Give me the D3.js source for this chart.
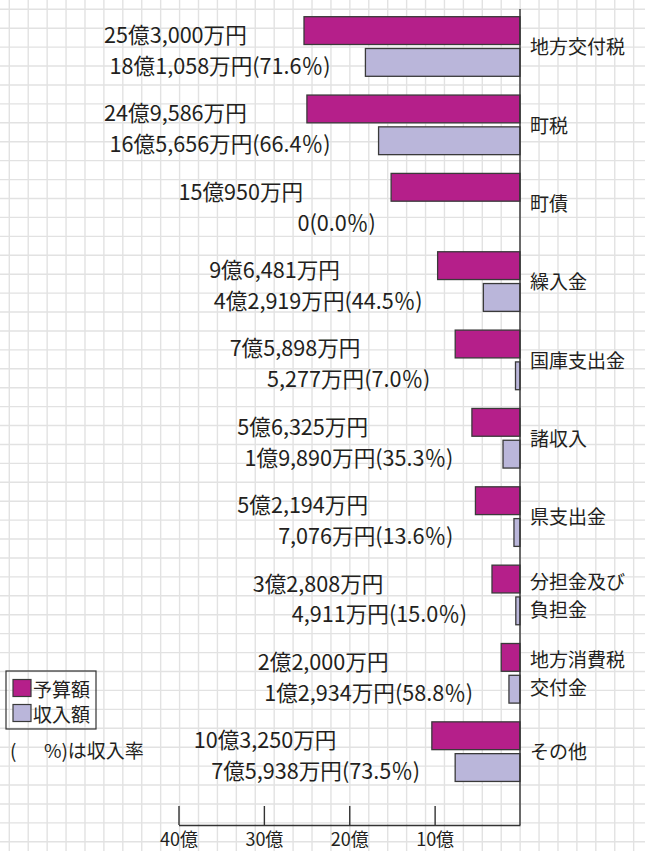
<!DOCTYPE html>
<html>
<head>
<meta charset="utf-8">
<script src="https://cdn.jsdelivr.net/npm/d3@7/dist/d3.min.js"></script>
<style>
  body { margin: 0; background: #fff; }
  svg { display: block; }
  text { font-family: "Noto Sans CJK JP", sans-serif; fill: #231f20; }
</style>
</head>
<body>
<div id="container"></div>
<script>
// categories (\n = line break in the label)
var categories = ['地方交付税', '町税', '町債', '繰入金', '国庫支出金', '諸収入',
    '県支出金', '分担金及び\n負担金', '地方消費税\n交付金', 'その他'];
// amounts in 万円
var budget = [253000, 249586, 150950, 96481, 75898, 56325, 52194, 32808, 22000, 103250];
var income = [181058, 165656, 0, 42919, 5277, 19890, 7076, 4911, 12934, 75938];
// 収入率 (%)
var rates = [71.6, 66.4, 0.0, 44.5, 7.0, 35.3, 13.6, 15.0, 58.8, 73.5];
// axis ticks in 億
var tickValues = [10, 20, 30, 40];
// where each value label ends, read along the axis in 億
var budgetLabelEnd = [32.0, 32.0, 25.4, 21.1, 18.7, 17.8, 17.8, 16.0, 15.4, 21.5];
var incomeLabelEnd = [22.2, 22.2, 16.9, 11.4, 10.5, 7.8, 7.8, 6.2, 5.5, 11.7];

var width = 645,
    height = 851,
    zeroX = 520,
    axisY = 825;

var svg = d3.select('#container')
    .append('svg')
    .attr('width', width)
    .attr('height', height);

// graph paper background
var gridStep = 18.92, gridStart = 9.3;
var grid = svg.append('g').attr('stroke', '#e2e2e2').attr('stroke-width', 1.4);
grid.selectAll('line.v')
    .data(d3.range(gridStart, width, gridStep))
    .enter().append('line')
    .attr('x1', function(d) { return d; })
    .attr('x2', function(d) { return d; })
    .attr('y1', 0).attr('y2', height);
grid.selectAll('line.h')
    .data(d3.range(gridStart, height, gridStep))
    .enter().append('line')
    .attr('y1', function(d) { return d; })
    .attr('y2', function(d) { return d; })
    .attr('x1', 0).attr('x2', width);

var x = d3.scaleLinear()
    .domain([0, 40])
    .range([zeroX, 178.5]);

var y = d3.scaleBand()
    .domain(categories)
    .range([16.7, 16.7 + 78.35 * categories.length])
    .padding(0);

var sub = d3.scaleBand()
    .domain(['budget', 'income'])
    .range([0, 59.6])
    .paddingInner(0.126);

var color = { budget: '#b51f8a', income: '#bab6da' };

function oku(v) { return v / 10000; }

function fmt(v) {
    if (v === 0) return '0';
    var o = Math.floor(v / 10000), m = v % 10000;
    var s = o > 0 ? o + '億' : '';
    if (m > 0) s += d3.format(',')(m) + '万';
    return s + '円';
}

var rows = categories.map(function(c, i) {
    return { cat: c, budget: budget[i], income: income[i], rate: rates[i], i: i };
});

var row = svg.selectAll('g.row')
    .data(rows)
    .enter().append('g')
    .attr('class', 'row')
    .attr('transform', function(d) { return 'translate(0,' + y(d.cat) + ')'; });

['budget', 'income'].forEach(function(key) {
    row.filter(function(d) { return d[key] > 0; })
        .append('rect')
        .attr('x', function(d) { return x(oku(d[key])); })
        .attr('y', sub(key))
        .attr('width', function(d) { return x(0) - x(oku(d[key])); })
        .attr('height', sub.bandwidth())
        .attr('fill', color[key])
        .attr('stroke', '#3a3a3a')
        .attr('stroke-width', 1.3);
});

// value labels
row.append('text')
    .attr('x', function(d) { return x(budgetLabelEnd[d.i]); })
    .attr('y', sub('budget') + sub.bandwidth() / 2 + 3)
    .attr('text-anchor', 'end')
    .attr('dominant-baseline', 'central')
    .style('font-size', '21.6px')
    .text(function(d) { return fmt(d.budget); });

row.append('text')
    .attr('x', function(d) { return x(incomeLabelEnd[d.i]); })
    .attr('y', sub('income') + sub.bandwidth() / 2 + 2)
    .attr('text-anchor', 'end')
    .attr('dominant-baseline', 'central')
    .style('font-size', '21.6px')
    .text(function(d) { return fmt(d.income) + '(' + d3.format('.1f')(d.rate) + '％)'; });

// category labels, one text element per category
row.append('text')
    .attr('class', 'cat')
    .attr('x', zeroX + 10)
    .attr('y', 29)
    .style('font-size', '19px')
    .each(function(d) {
        var lines = d.cat.split('\n'), lh = 28;
        d3.select(this).selectAll('tspan')
            .data(lines)
            .enter().append('tspan')
            .attr('x', zeroX + 10)
            .attr('y', function(l, j) { return 29 + (j - (lines.length - 1) / 2) * lh; })
            .attr('dominant-baseline', 'central')
            .text(function(l) { return l; });
    });

// zero line
svg.append('line')
    .attr('x1', x(0)).attr('x2', x(0))
    .attr('y1', 9).attr('y2', axisY)
    .attr('stroke', '#333').attr('stroke-width', 1.4);

// bottom axis, ticks point up
var axis = svg.append('g')
    .attr('transform', 'translate(0,' + axisY + ')')
    .call(d3.axisBottom(x)
        .tickValues(tickValues)
        .tickSizeInner(-19)
        .tickSizeOuter(0)
        .tickPadding(8)
        .tickFormat(function(d) { return d + '億'; }));
axis.select('.domain').attr('stroke', '#333').attr('stroke-width', 1.4);
axis.selectAll('.tick line').attr('stroke', '#333').attr('stroke-width', 1.4);
axis.selectAll('.tick text')
    .attr('fill', '#231f20')
    .style('font-family', '"Noto Sans CJK JP", sans-serif')
    .style('font-size', '18px');

// legend
var legend = svg.append('g');
legend.append('rect')
    .attr('x', 6).attr('y', 671)
    .attr('width', 90).attr('height', 58)
    .attr('fill', 'none')
    .attr('stroke', '#333').attr('stroke-width', 1.2);
[['予算額', 'budget'], ['収入額', 'income']].forEach(function(item, k) {
    legend.append('rect')
        .attr('x', 13).attr('y', 679.5 + k * 25)
        .attr('width', 18).attr('height', 17)
        .attr('fill', color[item[1]])
        .attr('stroke', '#3a3a3a').attr('stroke-width', 1.2);
    legend.append('text')
        .attr('x', 33).attr('y', 688.5 + k * 25)
        .attr('dominant-baseline', 'central')
        .style('font-size', '19px')
        .text(item[0]);
});
legend.append('text')
    .attr('x', 10).attr('y', 749)
    .attr('dominant-baseline', 'central')
    .style('font-size', '19px')
    .style('white-space', 'pre')
    .text('(　  %)は収入率');
</script>
</body>
</html>
